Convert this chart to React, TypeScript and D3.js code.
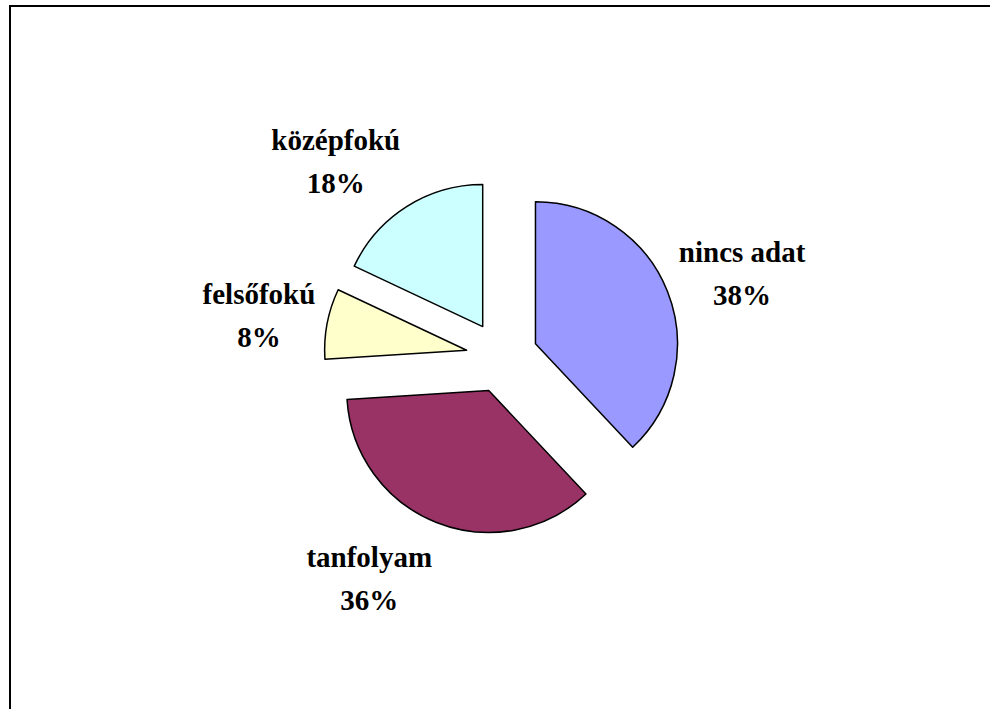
import { useEffect, useRef } from "react";
import * as d3 from "d3";

const categories = ["nincs adat", "tanfolyam", "felsőfokú", "középfokú"];
const values = [38, 36, 8, 18];
const colors = ["#9999FF", "#993366", "#FFFFCC", "#CCFFFF"];

const App = () => {
    const ref = useRef<SVGSVGElement>(null);

    useEffect(() => {
        const width = 990;
        const height = 709;
        const cx = 502;
        const cy = 357;
        const radius = 142;
        const explode = 36;
        const gap = 12;

        const svg = d3.select(ref.current);
        svg.selectAll("*").remove();

        // chart area frame
        svg.append("rect")
            .attr("x", 10)
            .attr("y", 6)
            .attr("width", width + 20)
            .attr("height", height + 20)
            .attr("fill", "#fff")
            .attr("stroke", "#000")
            .attr("stroke-width", 2);

        const data = categories.map((c, i) => ({ name: c, value: values[i], color: colors[i] }));
        const pie = d3.pie<any>().sort(null).value((d) => d.value).startAngle(0);
        const arcs = pie(data);
        const arc = d3.arc<any>().innerRadius(0).outerRadius(radius);
        const total = d3.sum(values);

        const g = svg.append("g").attr("transform", `translate(${cx}, ${cy})`);

        arcs.forEach((a) => {
            const mid = (a.startAngle + a.endAngle) / 2;
            const dx = Math.sin(mid);
            const dy = -Math.cos(mid);

            g.append("path")
                .attr("transform", `translate(${dx * explode}, ${dy * explode})`)
                .attr("d", arc(a))
                .attr("fill", a.data.color)
                .attr("stroke", "#000")
                .attr("stroke-width", 1.5)
                .attr("stroke-linejoin", "round");

            // label anchor just outside the exploded slice
            const px = dx * (explode + radius + gap);
            const py = dy * (explode + radius + gap);

            const label = g.append("text")
                .attr("font-family", "Liberation Serif, Times New Roman, serif")
                .attr("font-weight", "bold")
                .attr("font-size", 29)
                .attr("fill", "#000")
                .attr("text-anchor", "middle");

            label.append("tspan").attr("x", 0).text(a.data.name);
            label.append("tspan").attr("x", 0).attr("dy", 43)
                .text(`${Math.round((a.data.value / total) * 100)}%`);

            const w = (label.node() as SVGTextElement).getBBox().width;
            const h = 90;
            const lx = px + Math.sign(dx) * w / 2;
            const ly = py + dy * h / 2;

            label.attr("transform", `translate(${lx}, ${ly - 8.5})`);
        });
    }, []);

    return (
        <svg
            ref={ref}
            width={990}
            height={709}
            style={{ position: "absolute", left: 0, top: 0 }}
        />
    );
};

export default App;
